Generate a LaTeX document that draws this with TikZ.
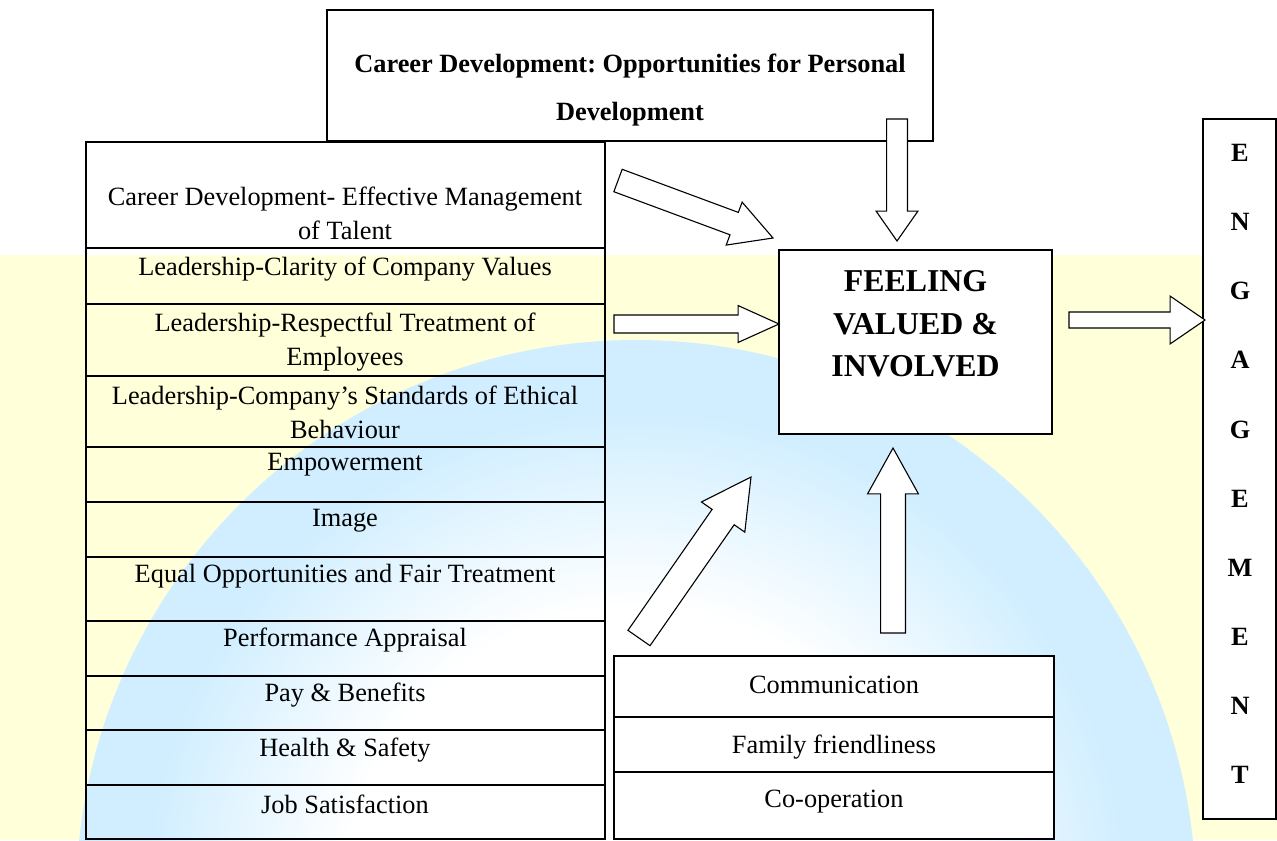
\documentclass[tikz,border=0pt]{standalone}
\usepackage{fontspec}
\setmainfont{Liberation Serif}
\usetikzlibrary{calc}
\frenchspacing
\definecolor{bandyellow}{RGB}{255,255,218}
\definecolor{globeblue}{RGB}{208,238,255}
\pgfdeclareradialshading{globe}{\pgfpoint{0bp}{0bp}}{color(0bp)=(white); color(13bp)=(white); color(22bp)=(globeblue); color(25bp)=(globeblue); color(50bp)=(globeblue)}
\newcommand{\pxu}{0.4535pt}
\newcommand{\blockarrow}[5]{%
  \coordinate (hb) at ($(#2)!#5*\pxu!(#1)$);
  \filldraw[fill=white, line width=0.5pt, line join=miter]
    ($(#1)!#3*\pxu!90:(#2)$) -- ($(hb)!#3*\pxu!90:(#2)$) -- ($(hb)!#4*\pxu!90:(#2)$)
    -- (#2) -- ($(hb)!#4*\pxu!-90:(#2)$) -- ($(hb)!#3*\pxu!-90:(#2)$)
    -- ($(#1)!#3*\pxu!-90:(#2)$) -- cycle;}

\begin{document}
\begin{tikzpicture}[x=0.016cm, y=-0.016cm,
  cell/.style={line width=0.8pt},
  box/.style={line width=0.6pt, fill=white},
  celltext/.style={font=\fontsize{12}{15.5}\selectfont, align=center, inner sep=0pt},
  headtext/.style={font=\bfseries\fontsize{12}{21.9}\selectfont, align=center, inner sep=0pt},
  bigtext/.style={font=\bfseries\fontsize{14.5}{19.4}\selectfont, align=center, inner sep=0pt},
  engtext/.style={font=\bfseries\fontsize{12}{31.5}\selectfont, align=center, inner sep=0pt}]
\useasboundingbox (0,0) rectangle (1277,840);

\fill[bandyellow] (0,255) rectangle (1277,840);
\begin{scope}
  \clip (0,255) rectangle (1277,840);
  \shade[shading=globe] (636,900) circle (560);
\end{scope}

\draw[box] (327,10) rectangle (933,141);
\node[headtext] (career-top) at (630,90) {Career Development: Opportunities for Personal\\Development};

\draw[cell] (86,142) rectangle (605,248);
\draw[cell] (86,248) rectangle (605,304);
\draw[cell] (86,304) rectangle (605,376);
\draw[cell] (86,376) rectangle (605,447);
\draw[cell] (86,447) rectangle (605,502);
\draw[cell] (86,502) rectangle (605,557);
\draw[cell] (86,557) rectangle (605,621);
\draw[cell] (86,621) rectangle (605,676);
\draw[cell] (86,676) rectangle (605,730);
\draw[cell] (86,730) rectangle (605,785);
\draw[cell] (86,785) rectangle (605,839);

\node[celltext] (talent) at (345,213) {Career Development- Effective Management\\of Talent};
\node[celltext] (values) at (345,269) {Leadership-Clarity of Company Values};
\node[celltext] (respect) at (345,342) {Leadership-Respectful Treatment of\\Employees};
\node[celltext] (ethics) at (345,412) {Leadership-Company's Standards of Ethical\\Behaviour};
\node[celltext] (empower) at (345,465) {Empowerment};
\node[celltext] (image) at (345,521) {Image};
\node[celltext] (equal) at (345,576) {Equal Opportunities and Fair Treatment};
\node[celltext] (appraisal) at (345,640) {Performance Appraisal};
\node[celltext] (pay) at (345,695) {Pay \& Benefits};
\node[celltext] (health) at (345,750) {Health \& Safety};
\node[celltext] (jobsat) at (345,804) {Job Satisfaction};

\draw[box] (779,250) rectangle (1052,434);
\node[bigtext] (fvi) at (915.5,324) {FEELING\\VALUED \&\\INVOLVED};

\draw[box] (1203,119) rectangle (1276,819);
\node[engtext] (eng) at (1240,464) {E\\N\\G\\A\\G\\E\\M\\E\\N\\T};

\draw[box, line width=0.7pt] (614,656) rectangle (1054,717);
\draw[box, line width=0.7pt] (614,717) rectangle (1054,772);
\draw[box, line width=0.7pt] (614,772) rectangle (1054,839);
\node[celltext] (comm) at (834,685) {Communication};
\node[celltext] (family) at (834,747) {Family friendliness};
\node[celltext] (coop) at (834,802) {Co-operation};

\coordinate (talent-out) at (618,180.5);
\coordinate (talent-in) at (773,238);
\coordinate (lead-out) at (614,324);
\coordinate (lead-in) at (779,324);
\coordinate (top-out) at (897,119);
\coordinate (top-in) at (897,241);
\coordinate (rest-out) at (639,638);
\coordinate (rest-in) at (751,477);
\coordinate (comm-out) at (893,633);
\coordinate (comm-in) at (893,448);
\coordinate (fvi-out) at (1069,320);
\coordinate (eng-in) at (1205,320);

\blockarrow{talent-out}{talent-in}{12}{23}{41.6}
\blockarrow{lead-out}{lead-in}{9}{18.5}{41}
\blockarrow{top-out}{top-in}{10.5}{21}{30}
\blockarrow{rest-out}{rest-in}{13.5}{26.5}{49}
\blockarrow{comm-out}{comm-in}{12.5}{25.5}{46}
\blockarrow{fvi-out}{eng-in}{8}{24}{35}
\end{tikzpicture}
\end{document}
